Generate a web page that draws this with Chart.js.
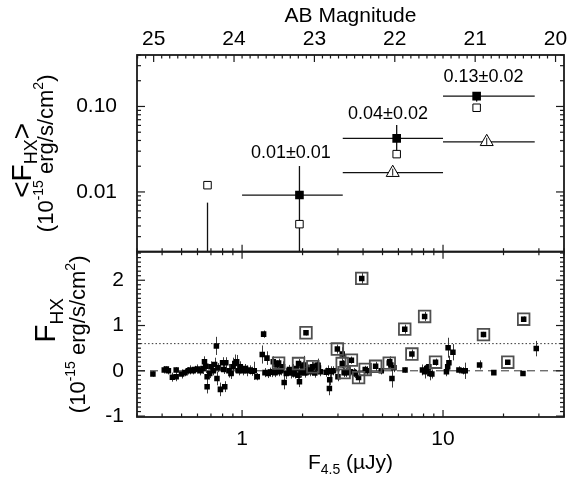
<!DOCTYPE html>
<html><head><meta charset="utf-8">
<script src="https://cdn.jsdelivr.net/npm/chart.js@4.4.0/dist/chart.umd.min.js"></script>
<style>html,body{margin:0;padding:0;background:#fff;}#wrap{position:relative;width:578px;height:477px;}</style>
</head><body><div id="wrap"><canvas id="c" width="578" height="477"></canvas></div>
<script>
const FONT = '"Liberation Sans", Arial, Helvetica, sans-serif';

// ---------------- axis ticks ----------------
const xTickValues = [1, 10];
const xTickLabels = ['1', '10'];
const magTickValues = [25, 24, 23, 22, 21, 20];
const magTickLabels = ['25', '24', '23', '22', '21', '20'];
const yTopTickValues = [0.01, 0.1];
const yTopTickLabels = ['0.01', '0.10'];
const yBotTickValues = [-1, 0, 1, 2];
const yBotTickLabels = ['-1', '0', '1', '2'];

// ---------------- top panel: stacked fluxes per bin ----------------
const binLo = [1.0, 3.17, 10.0];
const binHi = [3.17, 10.0, 28.6];
const meanF = [1.93, 5.88, 14.7];
const meanV = [0.0092, 0.0424, 0.132];
const meanErrHi = [0.0201, 0.0605, 0.146];
const meanErrLo = [0.0015, 0.0258, 0.114];
const medianF = [0.673, 1.93, 5.88, 14.7];
const medianV = [0.0120, 0.0042, 0.0277, 0.0966];
const triF = [5.62, 16.5];
const triV = [0.0168, 0.0386];
const triLo = [3.17, 10.0];
const triHi = [10.0, 28.6];
const faintBinF = [0.673];
const faintBinHi = [0.0075];
const binLabels = ['0.01\u00b10.01', '0.04\u00b10.02', '0.13\u00b10.02'];
const binLabelF = [1.75, 5.32, 15.9];
const binLabelV = [0.0285, 0.0814, 0.222];

// ---------------- bottom panel: individual sources ----------------
const srcF = [0.36,0.41,0.42,0.43,0.45,0.47,0.47,0.50,0.52,0.54,0.55,0.57,0.58,0.60,0.62,0.64,0.65,0.66,0.67,0.67,
  0.69,0.70,0.72,0.73,0.745,0.75,0.78,0.76,0.80,0.83,0.82,0.81,0.86,0.88,0.90,0.92,0.94,0.96,0.98,1.01,
  1.04,1.06,1.09,1.12,1.15,1.19,1.26,1.28,1.33,1.30,1.35,1.38,1.41,1.43,1.46,1.49,1.52,1.56,1.59,1.62,
  1.66,1.72,1.76,1.80,1.83,1.86,1.90,1.93,1.97,2.00,2.03,2.05,2.10,2.14,2.18,2.23,2.30,2.36,2.40,2.39,
  2.45,2.62,2.68,2.73,2.72,2.78,2.85,3.00,3.15,3.17,3.30,3.46,3.62,3.66,4.20,4.93,5.43,5.50,5.57,5.70,
  6.47,7.90,8.10,8.30,8.50,8.60,8.80,10.4,10.55,10.7,10.6,11.2,12.0,12.6,12.9,15.2,17.9,25.0,29.1];
const srcV = [-0.07,0.02,0.04,0.00,-0.14,-0.13,0.02,-0.07,-0.04,0.00,0.02,0.00,0.03,0.04,0.00,0.05,0.20,0.10,-0.13,-0.35,
  -0.06,0.09,0.00,0.14,0.55,-0.17,-0.41,0.07,0.18,0.18,-0.35,0.03,0.00,-0.06,0.09,0.16,0.20,0.00,0.09,0.00,
  0.05,0.00,0.02,-0.01,0.00,-0.13,0.36,0.81,0.28,-0.04,-0.06,-0.03,-0.02,0.20,-0.04,0.13,-0.02,0.00,0.09,-0.26,
  -0.06,0.03,-0.05,0.00,-0.07,0.05,-0.10,-0.24,-0.03,0.09,0.13,-0.05,0.00,0.02,-0.02,0.08,-0.05,0.12,0.06,0.12,
  -0.02,-0.03,0.00,-0.20,-0.39,-0.02,0.00,-0.13,0.37,0.14,-0.04,-0.02,-0.04,-0.06,0.00,0.00,0.20,0.13,-0.17,0.07,
  0.02,0.02,-0.02,0.05,0.09,-0.06,-0.07,-0.02,0.09,0.18,0.51,0.41,0.02,0.00,0.00,0.13,-0.04,-0.06,0.49];
const srcE = [0.06,0.08,0.06,0.08,0.10,0.10,0.06,0.10,0.08,0.08,0.10,0.08,0.08,0.10,0.10,0.12,0.12,0.15,0.12,0.15,
  0.10,0.12,0.10,0.15,0.20,0.15,0.15,0.10,0.12,0.12,0.12,0.10,0.15,0.12,0.20,0.20,0.15,0.10,0.12,0.10,
  0.10,0.12,0.10,0.10,0.20,0.08,0.20,0.08,0.15,0.10,0.10,0.10,0.12,0.12,0.10,0.10,0.10,0.10,0.12,0.15,
  0.12,0.10,0.12,0.15,0.10,0.15,0.10,0.12,0.12,0.12,0.20,0.10,0.10,0.12,0.10,0.12,0.10,0.12,0.10,0.15,
  0.10,0.10,0.12,0.12,0.15,0.12,0.10,0.10,0.15,0.10,0.10,0.10,0.10,0.10,0.10,0.08,0.12,0.12,0.20,0.10,
  0.06,0.12,0.15,0.10,0.10,0.15,0.10,0.10,0.12,0.15,0.22,0.18,0.08,0.08,0.18,0.10,0.05,0.05,0.17];
// sources marked with a box
const boxF = [1.52,1.91,2.25,2.08,2.98,3.15,3.22,3.50,3.80,3.94,4.10,4.62,5.40,6.45,7.00,8.10,9.18,15.9,21.0,25.2];
const boxV = [0.17,0.16,0.09,0.84,0.48,0.16,-0.04,0.235,-0.15,2.04,0.03,0.10,0.17,0.92,0.37,1.20,0.19,0.80,0.19,1.14];
const boxE = [0.10,0.10,0.10,0.06,0.10,0.10,0.10,0.08,0.12,0.12,0.08,0.10,0.10,0.10,0.10,0.10,0.08,0.06,0.05,0.06];
const zeroLevel = 0;
const thresholdLevel = 0.6;

// ---------------- helpers ----------------
const magOf = f => 23.9 - 2.5 * Math.log10(f);
const X_MIN = 0.3, X_MAX = 40;
const pts = (xs, ys) => xs.map((x, i) => ({x: x, y: ys[i]}));

function seg(ctx, x1, y1, x2, y2) { ctx.beginPath(); ctx.moveTo(x1, y1); ctx.lineTo(x2, y2); ctx.stroke(); }
function rich(ctx, parts, cx, by) {
  let w = 0;
  parts.forEach(p => { ctx.font = p.s + 'px ' + FONT; w += ctx.measureText(p.t).width; });
  let x = cx - w / 2;
  ctx.textAlign = 'left'; ctx.textBaseline = 'alphabetic';
  parts.forEach(p => { ctx.font = p.s + 'px ' + FONT; ctx.fillText(p.t, x, by + (p.dy || 0)); x += ctx.measureText(p.t).width; });
}
function richRot(ctx, parts, bx, cy) {
  ctx.save(); ctx.translate(bx, cy); ctx.rotate(-Math.PI / 2); rich(ctx, parts, 0, 0); ctx.restore();
}

const deco = {
  id: 'deco',
  beforeDatasetsDraw(chart) {
    const ctx = chart.ctx, sx = chart.scales.x, yt = chart.scales.yTop, yb = chart.scales.yBot;
    const L = sx.left, R = sx.right;
    const clampT = v => Math.max(yt.top, Math.min(yt.bottom, yt.getPixelForValue(v)));
    ctx.save();
    ctx.strokeStyle = '#333'; ctx.lineWidth = 1;
    ctx.setLineDash([8, 5]);
    seg(ctx, L, yb.getPixelForValue(zeroLevel), R, yb.getPixelForValue(zeroLevel));
    ctx.setLineDash([1.5, 2.2]);
    seg(ctx, L, yb.getPixelForValue(thresholdLevel), R, yb.getPixelForValue(thresholdLevel));
    ctx.setLineDash([]);
    ctx.strokeStyle = '#3c3c3c'; ctx.lineWidth = 1;
    const allF = srcF.concat(boxF), allV = srcV.concat(boxV), allE = srcE.concat(boxE);
    allF.forEach((f, i) => {
      const x = Math.round(sx.getPixelForValue(f)) + 0.5;
      seg(ctx, x, yb.getPixelForValue(allV[i] - allE[i]), x, yb.getPixelForValue(allV[i] + allE[i]));
    });
    ctx.strokeStyle = '#111'; ctx.lineWidth = 1.3;
    meanF.forEach((f, i) => {
      const y = yt.getPixelForValue(meanV[i]);
      seg(ctx, sx.getPixelForValue(binLo[i]), y, sx.getPixelForValue(binHi[i]), y);
      const x = sx.getPixelForValue(f);
      seg(ctx, x, clampT(meanErrHi[i]), x, clampT(meanErrLo[i]));
    });
    triF.forEach((f, i) => {
      const y = yt.getPixelForValue(triV[i]);
      seg(ctx, sx.getPixelForValue(triLo[i]), y, sx.getPixelForValue(triHi[i]), y);
    });
    faintBinF.forEach((f, i) => {
      const x = sx.getPixelForValue(f);
      seg(ctx, x, clampT(faintBinHi[i]), x, yt.bottom);
    });
    ctx.restore();
  },
  afterDatasetsDraw(chart) {
    const ctx = chart.ctx, sx = chart.scales.x, sm = chart.scales.xTop, yt = chart.scales.yTop, yb = chart.scales.yBot;
    const L = sx.left, R = sx.right;
    ctx.save();
    ctx.strokeStyle = '#111'; ctx.lineWidth = 1;
    triF.forEach((f, i) => {
      const x = sx.getPixelForValue(f), y = yt.getPixelForValue(triV[i]);
      seg(ctx, x, y - 4, x, y + 3);
    });
    ctx.strokeStyle = '#1a1a1a'; ctx.lineWidth = 1.8;
    ctx.strokeRect(L, yt.top, R - L, yt.bottom - yt.top);
    ctx.strokeRect(L, yb.top, R - L, yb.bottom - yb.top);
    ctx.lineWidth = 1.2;
    const XMAJ = 7, XMIN = 3.5, YMAJ = 8, YMIN = 4;
    for (let d = 0.1; d <= 10.001; d *= 10) {
      for (let k = 1; k <= 9; k++) {
        const v = k * d;
        if (v < X_MIN - 1e-9 || v > X_MAX + 1e-9) continue;
        const x = sx.getPixelForValue(v), len = k === 1 ? XMAJ : XMIN;
        seg(ctx, x, yb.bottom, x, yb.bottom - len);
        seg(ctx, x, yb.top, x, yb.top + len);
        seg(ctx, x, yt.bottom, x, yt.bottom - len);
      }
    }
    for (let m = 200; m <= 252; m++) {
      const v = m / 10;
      if (v < sm.min || v > sm.max) continue;
      const x = sm.getPixelForValue(v), len = (m % 10 === 0) ? XMAJ : XMIN;
      seg(ctx, x, yt.top, x, yt.top + len);
    }
    for (let d = 0.001; d <= 0.1001; d *= 10) {
      for (let k = 1; k <= 9; k++) {
        const v = k * d;
        if (v < yt.min * 0.999 || v > yt.max * 1.001) continue;
        const y = yt.getPixelForValue(v), len = k === 1 ? YMAJ : YMIN;
        seg(ctx, L, y, L + len, y); seg(ctx, R, y, R - len, y);
      }
    }
    for (let m = -10; m <= 26; m++) {
      const v = m / 10;
      if (v < yb.min || v > yb.max) continue;
      const y = yb.getPixelForValue(v), len = (m % 10 === 0) ? YMAJ : YMIN;
      seg(ctx, L, y, L + len, y); seg(ctx, R, y, R - len, y);
    }
    ctx.fillStyle = '#000'; ctx.font = '18px ' + FONT; ctx.textAlign = 'center'; ctx.textBaseline = 'middle';
    binLabels.forEach((t, i) => ctx.fillText(t, sx.getPixelForValue(binLabelF[i]), yt.getPixelForValue(binLabelV[i])));
    const cx = (L + R) / 2;
    rich(ctx, [{t: 'AB Magnitude', s: 21}], cx, 22);
    rich(ctx, [{t: 'F', s: 21}, {t: '4.5', s: 14, dy: 5}, {t: ' (\u00b5Jy)', s: 21}], cx, 469);
    const cyT = (yt.top + yt.bottom) / 2, cyB = (yb.top + yb.bottom) / 2;
    const unit = [{t: '(10', s: 22}, {t: '-15', s: 14, dy: -10}, {t: ' erg/s/cm', s: 22}, {t: '2', s: 14, dy: -10}, {t: ')', s: 22}];
    richRot(ctx, [{t: '<F', s: 28}, {t: 'HX', s: 18, dy: 6}, {t: '>', s: 28}], 31, cyT + 7);
    richRot(ctx, unit, 53, cyT);
    richRot(ctx, [{t: 'F', s: 30}, {t: 'HX', s: 19, dy: 8}], 55, cyB - 14);
    richRot(ctx, unit, 85, cyB);
    ctx.restore();
  }
};

const tickFont = {family: FONT, size: 21};
new Chart(document.getElementById('c'), {
  type: 'scatter',
  data: {
    datasets: [
      {data: pts(boxF, boxV), xAxisID: 'x', yAxisID: 'yBot', pointStyle: 'rect', radius: 8.2,
       backgroundColor: 'rgba(255,255,255,0)', borderColor: '#505050', borderWidth: 1.8},
      {data: pts(srcF.concat(boxF), srcV.concat(boxV)), xAxisID: 'x', yAxisID: 'yBot', pointStyle: 'rect', radius: 3.9,
       backgroundColor: '#000', borderColor: '#000', borderWidth: 0},
      {data: pts(medianF, medianV), xAxisID: 'x', yAxisID: 'yTop', pointStyle: 'rect', radius: 5.3,
       backgroundColor: '#fff', borderColor: '#000', borderWidth: 1},
      {data: pts(triF, triV), xAxisID: 'x', yAxisID: 'yTop', pointStyle: 'triangle', radius: 7.5,
       backgroundColor: '#fff', borderColor: '#000', borderWidth: 1},
      {data: pts(meanF, meanV), xAxisID: 'x', yAxisID: 'yTop', pointStyle: 'rect', radius: 6.1,
       backgroundColor: '#000', borderColor: '#000', borderWidth: 0}
    ]
  },
  options: {
    responsive: false, animation: false, devicePixelRatio: 1,
    layout: {padding: {left: 0, right: 14, top: 0, bottom: 0}},
    plugins: {legend: {display: false}, tooltip: {enabled: false}},
    elements: {point: {hoverRadius: 0}},
    scales: {
      x: {type: 'logarithmic', position: 'bottom', min: X_MIN, max: X_MAX,
          afterBuildTicks: s => { s.ticks = xTickValues.map(v => ({value: v})); },
          afterFit: s => { s.height = 60; },
          ticks: {callback: (v, i) => xTickLabels[i], font: tickFont, color: '#000', padding: 10, maxRotation: 0, autoSkip: false},
          grid: {display: false, drawTicks: false}, border: {display: false}},
      xTop: {type: 'linear', position: 'top', reverse: true, min: magOf(X_MAX), max: magOf(X_MIN),
          afterBuildTicks: s => { s.ticks = magTickValues.map(v => ({value: v})); },
          afterFit: s => { s.height = 55; },
          ticks: {callback: (v, i) => magTickLabels[i], font: tickFont, color: '#000', padding: 3, maxRotation: 0, autoSkip: false},
          grid: {display: false, drawTicks: false}, border: {display: false}},
      yBot: {type: 'linear', position: 'left', stack: 'panels', stackWeight: 165.3, min: -1.02, max: 2.63,
          afterBuildTicks: s => { s.ticks = yBotTickValues.map(v => ({value: v})); },
          afterFit: s => { s.width = 137; },
          ticks: {callback: (v, i) => yBotTickLabels[i], font: tickFont, color: '#000', padding: 13, autoSkip: false},
          grid: {display: false, drawTicks: false}, border: {display: false}},
      yTop: {type: 'logarithmic', position: 'left', stack: 'panels', stackWeight: 196.7, min: 0.002, max: 0.4,
          afterBuildTicks: s => { s.ticks = yTopTickValues.map(v => ({value: v})); },
          afterFit: s => { s.width = 137; },
          ticks: {callback: (v, i) => yTopTickLabels[i], font: tickFont, color: '#000', padding: 20, autoSkip: false},
          grid: {display: false, drawTicks: false}, border: {display: false}}
    }
  },
  plugins: [deco]
});
</script></body></html>
